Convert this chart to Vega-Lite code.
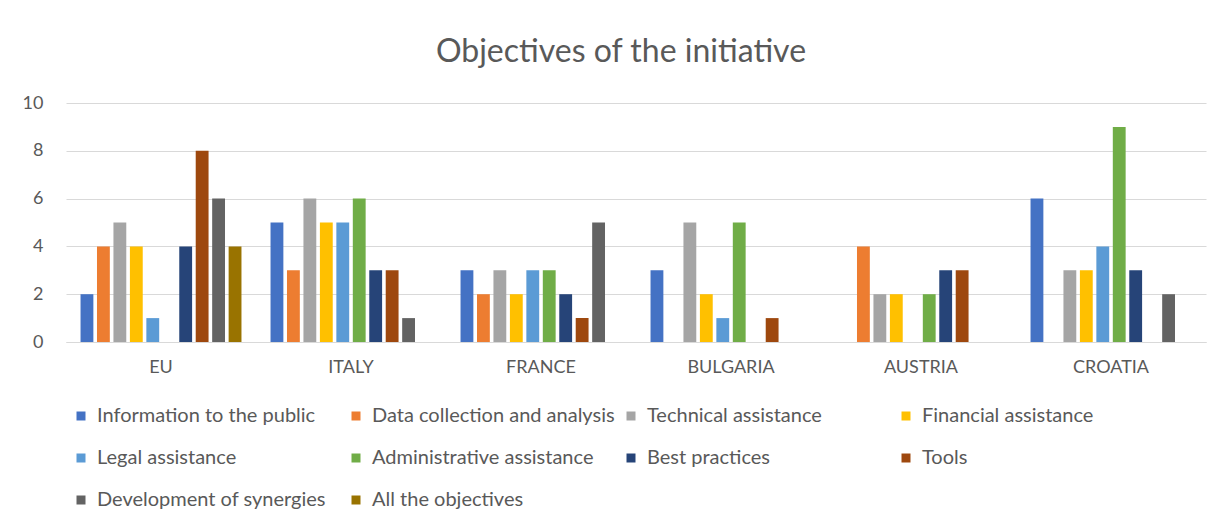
{
  "$schema": "https://vega.github.io/schema/vega-lite/v6.json",
  "autosize": {"type": "none"},
  "width": 1140,
  "height": 239,
  "padding": {"left": 66, "top": 103, "right": 21, "bottom": 185},
  "background": "white",
  "title": {
    "text": "Objectives of the initiative",
    "font": "Lato",
    "fontSize": 32,
    "fontWeight": "normal",
    "color": "#595959",
    "anchor": "middle",
    "offset": 25,
    "dx": -15
  },
  "data": {
    "values": [
      {"country": "EU", "objective": "Information to the public", "count": 2},
      {"country": "EU", "objective": "Data collection and analysis", "count": 4},
      {"country": "EU", "objective": "Technical assistance", "count": 5},
      {"country": "EU", "objective": "Financial assistance", "count": 4},
      {"country": "EU", "objective": "Legal assistance", "count": 1},
      {"country": "EU", "objective": "Best practices", "count": 4},
      {"country": "EU", "objective": "Tools", "count": 8},
      {"country": "EU", "objective": "Development of synergies", "count": 6},
      {"country": "EU", "objective": "All the objectives", "count": 4},
      {"country": "ITALY", "objective": "Information to the public", "count": 5},
      {"country": "ITALY", "objective": "Data collection and analysis", "count": 3},
      {"country": "ITALY", "objective": "Technical assistance", "count": 6},
      {"country": "ITALY", "objective": "Financial assistance", "count": 5},
      {"country": "ITALY", "objective": "Legal assistance", "count": 5},
      {"country": "ITALY", "objective": "Administrative assistance", "count": 6},
      {"country": "ITALY", "objective": "Best practices", "count": 3},
      {"country": "ITALY", "objective": "Tools", "count": 3},
      {"country": "ITALY", "objective": "Development of synergies", "count": 1},
      {"country": "FRANCE", "objective": "Information to the public", "count": 3},
      {"country": "FRANCE", "objective": "Data collection and analysis", "count": 2},
      {"country": "FRANCE", "objective": "Technical assistance", "count": 3},
      {"country": "FRANCE", "objective": "Financial assistance", "count": 2},
      {"country": "FRANCE", "objective": "Legal assistance", "count": 3},
      {"country": "FRANCE", "objective": "Administrative assistance", "count": 3},
      {"country": "FRANCE", "objective": "Best practices", "count": 2},
      {"country": "FRANCE", "objective": "Tools", "count": 1},
      {"country": "FRANCE", "objective": "Development of synergies", "count": 5},
      {"country": "BULGARIA", "objective": "Information to the public", "count": 3},
      {"country": "BULGARIA", "objective": "Technical assistance", "count": 5},
      {"country": "BULGARIA", "objective": "Financial assistance", "count": 2},
      {"country": "BULGARIA", "objective": "Legal assistance", "count": 1},
      {"country": "BULGARIA", "objective": "Administrative assistance", "count": 5},
      {"country": "BULGARIA", "objective": "Tools", "count": 1},
      {"country": "AUSTRIA", "objective": "Data collection and analysis", "count": 4},
      {"country": "AUSTRIA", "objective": "Technical assistance", "count": 2},
      {"country": "AUSTRIA", "objective": "Financial assistance", "count": 2},
      {"country": "AUSTRIA", "objective": "Administrative assistance", "count": 2},
      {"country": "AUSTRIA", "objective": "Best practices", "count": 3},
      {"country": "AUSTRIA", "objective": "Tools", "count": 3},
      {"country": "CROATIA", "objective": "Information to the public", "count": 6},
      {"country": "CROATIA", "objective": "Technical assistance", "count": 3},
      {"country": "CROATIA", "objective": "Financial assistance", "count": 3},
      {"country": "CROATIA", "objective": "Legal assistance", "count": 4},
      {"country": "CROATIA", "objective": "Administrative assistance", "count": 9},
      {"country": "CROATIA", "objective": "Best practices", "count": 3},
      {"country": "CROATIA", "objective": "Development of synergies", "count": 2}
    ]
  },
  "mark": {"type": "bar"},
  "encoding": {
    "x": {
      "field": "country",
      "type": "nominal",
      "sort": ["EU", "ITALY", "FRANCE", "BULGARIA", "AUSTRIA", "CROATIA"],
      "scale": {"paddingInner": 0.153, "paddingOuter": 0.0765},
      "axis": {
        "title": null,
        "labelAngle": 0,
        "labelFont": "Lato",
        "labelFontSize": 18,
        "labelColor": "#595959",
        "labelPadding": 16,
        "ticks": false,
        "domainColor": "#d9d9d9",
        "domainWidth": 1
      }
    },
    "xOffset": {
      "field": "objective",
      "type": "nominal",
      "scale": {
        "domain": ["Information to the public", "Data collection and analysis", "Technical assistance", "Financial assistance", "Legal assistance", "Administrative assistance", "Best practices", "Tools", "Development of synergies", "All the objectives"],
        "paddingInner": 0.22,
        "paddingOuter": 0
      }
    },
    "y": {
      "field": "count",
      "type": "quantitative",
      "scale": {"domain": [0, 10]},
      "axis": {
        "title": null,
        "values": [0, 2, 4, 6, 8, 10],
        "domain": false,
        "ticks": false,
        "labelFont": "Lato",
        "labelFontSize": 18,
        "labelColor": "#595959",
        "labelPadding": 23,
        "gridColor": "#d9d9d9",
        "gridWidth": 1
      }
    },
    "color": {
      "field": "objective",
      "type": "nominal",
      "scale": {
        "domain": ["Information to the public", "Data collection and analysis", "Technical assistance", "Financial assistance", "Legal assistance", "Administrative assistance", "Best practices", "Tools", "Development of synergies", "All the objectives"],
        "range": ["#4472C4", "#ED7D31", "#A5A5A5", "#FFC000", "#5B9BD5", "#70AD47", "#264478", "#9E480E", "#636363", "#997300"]
      },
      "legend": {
        "title": null,
        "orient": "none",
        "legendX": 5,
        "legendY": 303,
        "direction": "horizontal",
        "columns": 4,
        "gridAlign": "all",
        "columnPadding": 6,
        "rowPadding": 22,
        "symbolType": "square",
        "symbolSize": 81,
        "symbolStrokeWidth": 0,
        "labelFont": "Lato",
        "labelFontSize": 20,
        "labelColor": "#595959",
        "labelOffset": 6,
        "labelLimit": 400
      }
    }
  },
  "config": {
    "view": {"stroke": null}
  }
}
